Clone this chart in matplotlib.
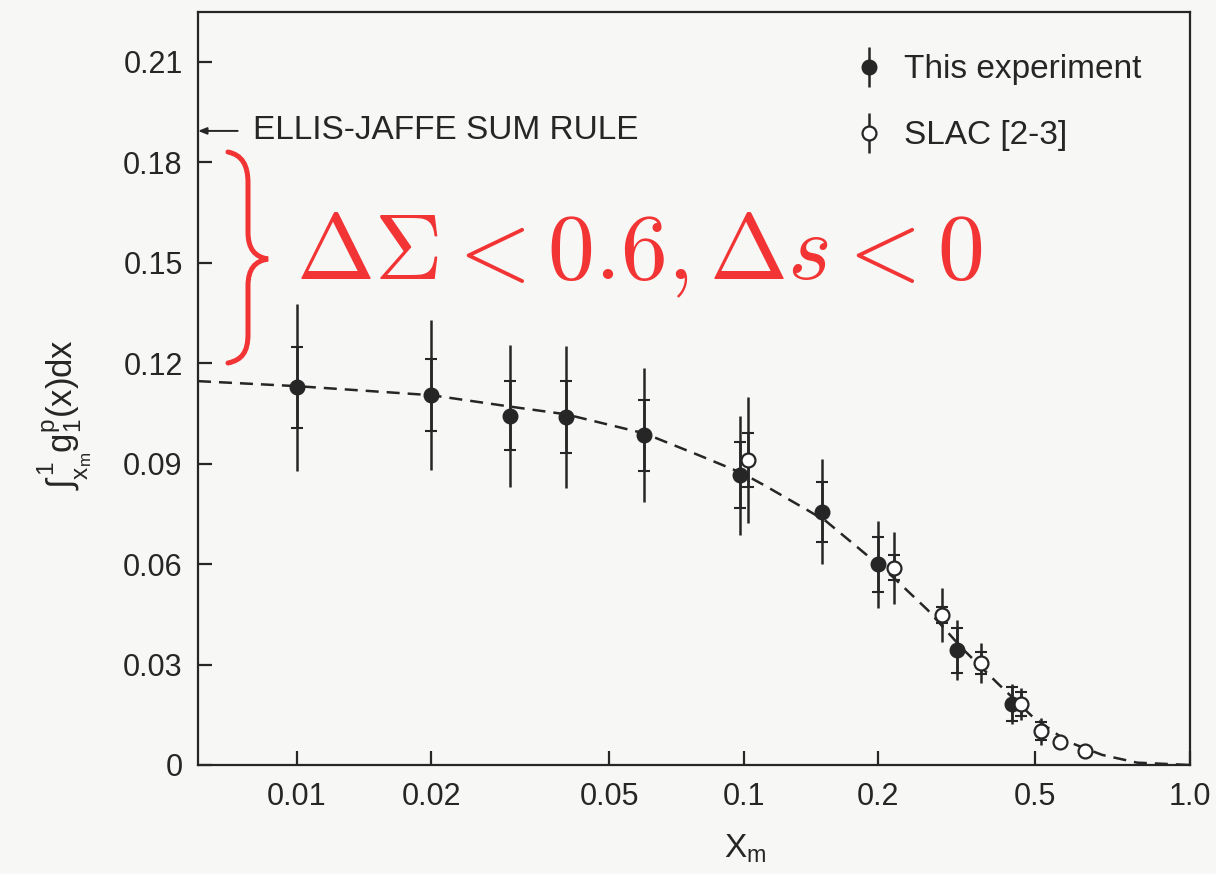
import numpy as np
import matplotlib
matplotlib.use("Agg")
import matplotlib.pyplot as plt
from matplotlib.path import Path
from matplotlib.patches import PathPatch
from matplotlib.legend_handler import HandlerErrorbar

# ── data ─────────────────────────────────────────────────────────────────────
this_x    = [0.010, 0.020, 0.030, 0.040, 0.060, 0.098, 0.150, 0.200, 0.300, 0.400]
this_y    = [0.1127, 0.1104, 0.1043, 0.1038, 0.0985, 0.0865, 0.0756, 0.0599, 0.0343, 0.0182]
this_stat = [0.0120, 0.0107, 0.0103, 0.0108, 0.0106, 0.0099, 0.0090, 0.0083, 0.0067, 0.0050]
this_tot  = [0.0250, 0.0224, 0.0212, 0.0212, 0.0199, 0.0177, 0.0157, 0.0130, 0.0090, 0.0060]

slac_x    = [0.1024, 0.217, 0.278, 0.340, 0.418, 0.463, 0.511, 0.581]
slac_y    = [0.0910, 0.0589, 0.0448, 0.0305, 0.0182, 0.0101, 0.0068, 0.0042]
slac_stat = [0.0081, 0.0038, 0.0024, 0.0032, 0.0035, 0.0026, 0.0, 0.0]
slac_tot  = [0.0189, 0.0108, 0.0081, 0.0060, 0.0048, 0.0040, 0.0, 0.0]

curve_x = [0.006, 0.010, 0.020, 0.030, 0.040, 0.060, 0.079, 0.099, 0.111, 0.139,
           0.153, 0.180, 0.2158, 0.2584, 0.3094, 0.3707, 0.444, 0.5314, 0.6363,
           0.7615, 1.0]
curve_y = [0.1146, 0.1131, 0.1104, 0.1070, 0.1047, 0.0990, 0.0926, 0.0872, 0.0836, 0.0761,
           0.0728, 0.0650, 0.0562, 0.0463, 0.0347, 0.0244, 0.0144, 0.0070, 0.0030,
           0.0007, 0.0]

ellis_jaffe = 0.1893

y_ticks  = [0, 0.03, 0.06, 0.09, 0.12, 0.15, 0.18, 0.21]
y_labels = ["0", "0.03", "0.06", "0.09", "0.12", "0.15", "0.18", "0.21"]
# the "0.5" tick of the original sits at ~0.45 on a true log scale
x_ticks  = [0.01, 0.02, 0.05, 0.1, 0.2, 0.45, 1.0]
x_labels = ["0.01", "0.02", "0.05", "0.1", "0.2", "0.5", "1.0"]

# ── style ────────────────────────────────────────────────────────────────────
INK = "#262626"
RED = "#f23434"
BG  = "#f7f7f6"
plt.rcParams["font.family"] = ["Liberation Sans", "DejaVu Sans"]
plt.rcParams["mathtext.fontset"] = "custom"
plt.rcParams["mathtext.rm"] = "Liberation Sans"
plt.rcParams["mathtext.it"] = "Liberation Sans"

fig = plt.figure(figsize=(12.16, 8.74), dpi=100)
fig.patch.set_facecolor(BG)
ax = fig.add_axes([198 / 1216, 1 - 765 / 874, 992 / 1216, 753 / 874])
ax.set_facecolor(BG)

ax.set_xscale("log")
ax.set_xlim(0.006, 1.0)
ax.set_ylim(0, 0.2248)

# fit curve
ax.plot(curve_x, curve_y, color=INK, lw=1.8, ls=(0, (5.2, 3.2)), zorder=2)

# this experiment: total error bar + stat ticks
h_this = ax.errorbar(this_x, this_y, yerr=this_tot, fmt="o", ms=10.5,
                     color=INK, mfc=INK, mec=INK, elinewidth=1.8, capsize=0,
                     zorder=4, label="This experiment")
ax.errorbar(this_x, this_y, yerr=this_stat, fmt="none", ecolor=INK,
            elinewidth=1.8, capsize=4.5, capthick=1.5, zorder=3)

# SLAC
h_slac = ax.errorbar(slac_x, slac_y, yerr=slac_tot, fmt="o", ms=10,
                     color=INK, mfc="white", mec=INK, mew=1.6, elinewidth=1.8,
                     capsize=0, zorder=4, label="SLAC [2-3]")
ax.errorbar(slac_x, slac_y, yerr=slac_stat, fmt="none", ecolor=INK,
            elinewidth=1.8, capsize=4.5, capthick=1.5, zorder=3)

# axes cosmetics
for s in ax.spines.values():
    s.set_linewidth(1.6)
    s.set_color(INK)
ax.set_yticks(y_ticks)
ax.set_yticklabels(y_labels)
ax.set_xticks(x_ticks)
ax.set_xticklabels(x_labels)
ax.minorticks_off()
ax.tick_params(axis="both", direction="in", length=10, width=1.6, color=INK,
               labelsize=22, labelcolor=INK)
ax.tick_params(axis="y", pad=11)
ax.tick_params(axis="x", pad=12)

ax.set_xlabel(r"X$_\mathrm{m}$", fontsize=24, color=INK)
ax.xaxis.set_label_coords((745 - 198) / 992, -0.09)
ax.set_ylabel(r"$\int_{\mathrm{x_m}}^{1}\mathrm{g_1^p(x)dx}$", fontsize=25, color=INK)
ax.yaxis.set_label_coords(-0.104, (765 - 415) / 753)

# Ellis-Jaffe arrow
ax.annotate("", xy=(0.0, ellis_jaffe), xycoords=("axes fraction", "data"),
            xytext=(0.04, ellis_jaffe), textcoords=("axes fraction", "data"),
            arrowprops=dict(arrowstyle="-|>,head_length=0.5,head_width=0.2",
                            color=INK, lw=1.4, shrinkA=0, shrinkB=0))
ax.text(0.055, ellis_jaffe, "ELLIS-JAFFE SUM RULE", transform=ax.get_yaxis_transform(),
        fontsize=24, color=INK, va="center", ha="left")

# red brace (pixel layout converted to axes fraction)
def af(px, py):
    return ((px - 198) / 992, (765 - py) / 753)

brace_px = [(228, 152), (242, 155), (248, 165), (248, 183),
            (248, 232),
            (248, 249), (255, 257), (268, 259),
            (255, 261), (248, 269), (248, 286),
            (248, 334),
            (248, 352), (242, 360), (228, 363)]
codes = [Path.MOVETO, Path.CURVE4, Path.CURVE4, Path.CURVE4,
         Path.LINETO,
         Path.CURVE4, Path.CURVE4, Path.CURVE4,
         Path.CURVE4, Path.CURVE4, Path.CURVE4,
         Path.LINETO,
         Path.CURVE4, Path.CURVE4, Path.CURVE4]
brace = PathPatch(Path([af(*p) for p in brace_px], codes), transform=ax.transAxes,
                  fill=False, edgecolor=RED, lw=3.6, capstyle="round", zorder=5)
ax.add_patch(brace)

ax.text((296 - 198) / 992, 0.1452, r"$\Delta\Sigma < 0.6, \Delta s < 0$",
        transform=ax.get_yaxis_transform(), fontsize=67.5, color=RED,
        math_fontfamily="cm", ha="left", va="baseline", zorder=5)

# legend
leg = ax.legend(handles=[h_this, h_slac], loc="upper right", frameon=False,
                fontsize=24, handlelength=0.6, handletextpad=0.75,
                labelspacing=1.05, borderaxespad=0.55,
                bbox_to_anchor=(0.983, 0.986),
                handler_map={type(h_this): HandlerErrorbar(yerr_size=0.6)})
for t in leg.get_texts():
    t.set_color(INK)

fig.savefig("out.png", dpi=100, facecolor=BG)
